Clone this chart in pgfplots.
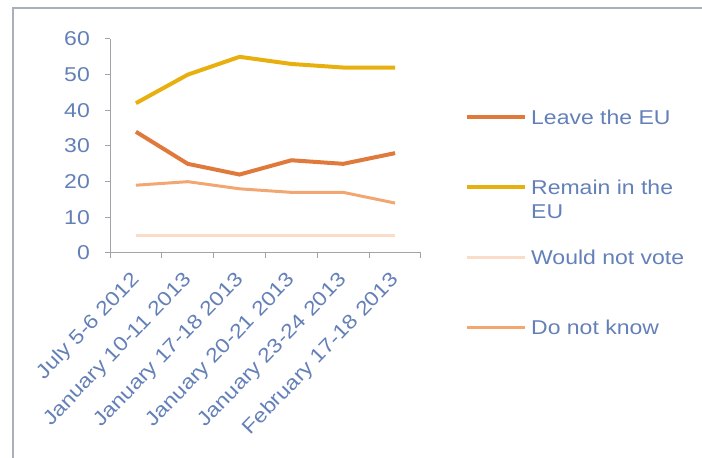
\documentclass[border=0pt]{standalone}
\usepackage{pgfplots}
\pgfplotsset{compat=1.18}
\usepackage{fontspec}
\setmainfont{Liberation Sans}[FakeStretch=1.15]
\definecolor{txt}{HTML}{6480B8}
\definecolor{leave}{HTML}{E07A3C}
\definecolor{remain}{HTML}{E8B00E}
\definecolor{novote}{HTML}{FBDCC8}
\definecolor{dunno}{HTML}{F2A772}
\definecolor{axl}{HTML}{A0A4A8}
\definecolor{framec}{HTML}{A8B0BC}
\begin{document}
\begin{tikzpicture}[font=\fontsize{20bp}{24bp}\selectfont]
\useasboundingbox (0,0) rectangle (702bp,458bp);
\draw[framec, line width=1.5bp] (13bp,0) -- (13bp,450bp) -- (702bp,450bp);
\begin{axis}[
  at={(110bp,205bp)}, anchor=south west,
  scale only axis, width=311bp, height=214bp,
  xmin=-0.5, xmax=5.5, ymin=0, ymax=60,
  axis lines=left, axis line style={-, axl, line width=1bp},
  xtick={0,...,5},
  xticklabels={July 5-6 2012, January 10-11 2013, January 17-18 2013, January 20-21 2013, January 23-24 2013, February 17-18 2013},
  major x tick style={draw=none},
  minor xtick={-0.5,0.5,...,5.5},
  ytick={0,10,...,60},
  tick align=outside,
  major tick length=5bp, minor tick length=5bp,
  tick style={axl, line width=1bp},
  /pgf/number format/assume math mode=true,
  ticklabel style={text=txt},
  xticklabel style={yshift=-19bp, xshift=1bp, rotate=46, anchor=east, inner sep=0pt},
  yticklabel style={anchor=east, inner sep=0pt, xshift=-15bp},
  legend style={at={(1,1)}, anchor=north west, xshift=44bp, yshift=-68bp,
    draw=none, fill=none, inner sep=0pt, row sep=46bp, column sep=2bp,
    text=txt, nodes={inner sep=2bp, text height=15bp, text depth=5bp}},
  legend cell align=left,
  legend image code/.code={\draw[#1] (0bp,2bp) -- (58bp,2bp);},
]
\addplot[leave, line width=4bp] coordinates {(0,34) (1,25) (2,22) (3,26) (4,25) (5,28)};
\addlegendentry{Leave the EU}
\addplot[remain, line width=4bp] coordinates {(0,42) (1,50) (2,55) (3,53) (4,52) (5,52)};
\addlegendentry{\parbox[t]{6cm}{Remain in the\\EU}}
\addplot[novote, line width=3bp] coordinates {(0,5) (1,5) (2,5) (3,5) (4,5) (5,5)};
\addlegendentry{Would not vote}
\addplot[dunno, line width=3bp] coordinates {(0,19) (1,20) (2,18) (3,17) (4,17) (5,14)};
\addlegendentry{Do not know}
\end{axis}
\end{tikzpicture}
\end{document}
